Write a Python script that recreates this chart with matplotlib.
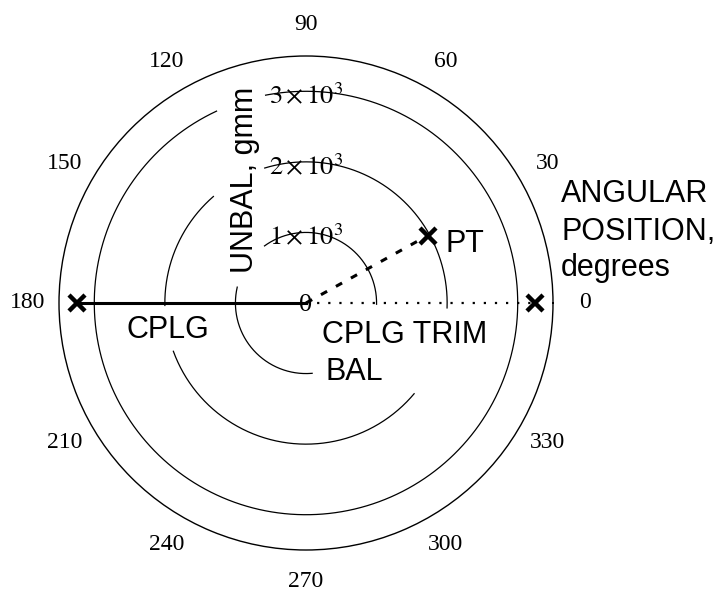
import numpy as np
import matplotlib
matplotlib.use("Agg")
import matplotlib.pyplot as plt

# ---------------- data ----------------
series_names = ["CPLG", "CPLG TRIM", "PT"]
series_angle_deg = [180, 0, 29]
series_unbal = [3250, 3250, 1970]

angle_ticks = [0, 30, 60, 90, 120, 150, 180, 210, 240, 270, 300, 330]
angle_labels = ["0", "30", "60", "90", "120", "150", "180", "210", "240", "270", "300", "330"]

radial_ticks = [0, 1000, 2000, 3000]
radial_labels = ["0", r"$1\times10^{3}$", r"$2\times10^{3}$", r"$3\times10^{3}$"]
r_max = 3500

# visible portions of the grid rings (radius, start deg, end deg)
ring_arcs = [
    (1000, -1, 126), (1000, 167, 275),
    (2000, -2, 107), (2000, 131, 181), (2000, 200, 320),
    (3000, 115, 461),
]

# ---------------- figure ----------------
W, H = 714, 592
fig = plt.figure(figsize=(W / 100, H / 100), dpi=100)
cx, cy, R = 306, 303, 247
ax = fig.add_axes([(cx - R) / W, 1 - (cy + R) / H, 2 * R / W, 2 * R / H],
                  projection="polar")
ax.set_ylim(0, r_max)
ax.set_yticks([])
ax.set_xticks([])
ax.grid(False)
ax.spines["polar"].set_linewidth(1.0)
ax.spines["polar"].set_color("black")

serif = "Liberation Serif"
sans = "Liberation Sans"
plt.rcParams["mathtext.fontset"] = "stix"

# grid rings
for r, a0, a1 in ring_arcs:
    th = np.deg2rad(np.linspace(a0, a1, 400))
    ax.plot(th, np.full_like(th, r), color="black", lw=0.9, zorder=1)

# angle labels
for a, lab in zip(angle_ticks, angle_labels):
    ax.text(np.deg2rad(a), 3950, lab, ha="center", va="center",
            fontsize=17, family=serif, clip_on=False)

# radial labels
for r, lab in zip(radial_ticks, radial_labels):
    dy = -13 if r > 0 else -8
    ax.annotate(lab, xy=(np.pi / 2, r), xytext=(0, dy), textcoords="offset pixels",
                ha="center", va="baseline", fontsize=19, family=serif, zorder=3)

# series
styles = {
    "CPLG": dict(ls="-", lw=2.2),
    "CPLG TRIM": dict(ls=(0, (1, 4)), lw=1.6),
    "PT": dict(ls=(0, (2.3, 3.3)), lw=2.2),
}
for name, a, m in zip(series_names, series_angle_deg, series_unbal):
    th = np.deg2rad(a)
    ax.plot([th, th], [0, m], color="black", zorder=4, **styles[name])
    ax.plot([th], [m], marker="x", ms=11, mew=3.2, color="black", zorder=5,
            clip_on=False)

# text labels
def fx(x):
    return x / W

def fy(y):
    return 1 - y / H

fs = 22
fig.text(fx(445), fy(252), "PT", fontsize=fs, family=sans, va="baseline")
fig.text(fx(126), fy(338), "CPLG", fontsize=fs, family=sans, va="baseline")
fig.text(fx(322), fy(343), "CPLG TRIM", fontsize=fs, family=sans, va="baseline")
fig.text(fx(325), fy(380), "BAL", fontsize=fs, family=sans, va="baseline")
fig.text(fx(253), fy(180), "UNBAL, gmm", fontsize=fs, family=sans, rotation=90,
         ha="center", va="baseline", rotation_mode="anchor")
fig.text(fx(561), fy(202), "ANGULAR", fontsize=fs, family=sans, va="baseline")
fig.text(fx(561), fy(240), "POSITION,", fontsize=fs, family=sans, va="baseline")
fig.text(fx(561), fy(276), "degrees", fontsize=fs, family=sans, va="baseline")

fig.savefig("out.png", dpi=100)
